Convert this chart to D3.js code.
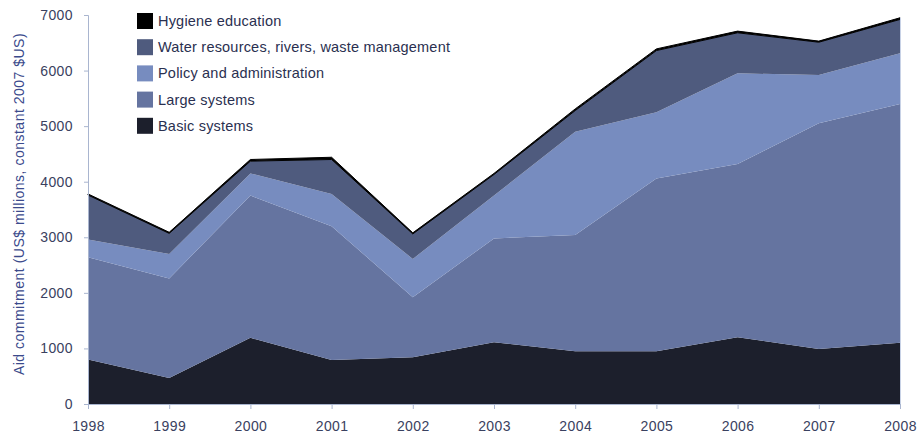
<!DOCTYPE html>
<html><head><meta charset="utf-8">
<script src="https://cdn.jsdelivr.net/npm/d3@7"></script>
<style>body{margin:0;background:#fff}svg{display:block}</style>
</head><body>
<svg id="c" width="918" height="439"></svg>
<script>
const years = [1998,1999,2000,2001,2002,2003,2004,2005,2006,2007,2008];
const basicSystems = [800,470,1190,790,840,1110,950,950,1200,990,1100];
const largeSystems = [1840,1790,2560,2410,1080,1870,2090,3110,3120,4060,4300];
const policyAdmin = [320,440,400,580,690,770,1860,1190,1630,870,910];
const waterResources = [800,370,220,620,450,380,380,1110,730,590,610];
const hygieneEducation = [20,20,30,40,20,20,30,30,30,20,30];
const yTicks = [0,1000,2000,3000,4000,5000,6000,7000];
const seriesNames = ["Basic systems","Large systems","Policy and administration","Water resources, rivers, waste management","Hygiene education"];
const seriesColors = ["#1c1f2c","#6574a0","#778cbf","#4f5b7e","#000000"];

const keys = ["basic","large","policy","water","hygiene"];
const table = years.map((y,i)=>({year:y,basic:basicSystems[i],large:largeSystems[i],policy:policyAdmin[i],water:waterResources[i],hygiene:hygieneEducation[i]}));

const svg = d3.select("#c");
const L=88,R=900,T=15,B=404;
const x = d3.scaleLinear().domain([1998,2008]).range([L,R]);
const y = d3.scaleLinear().domain([0,7000]).range([B,T]);

const stack = d3.stack().keys(keys)(table);
const area = d3.area().x(d=>x(d.data.year)).y0(d=>y(d[0])).y1(d=>y(d[1]));
svg.append("g").selectAll("path").data(stack).join("path")
  .attr("d",area).attr("fill",(d,i)=>seriesColors[i])
  .attr("stroke",(d,i)=>i===4?"#000":"none").attr("stroke-width",1);

const last = stack[stack.length-1][years.length-1][1];
svg.append("line").attr("x1",R+0.5).attr("x2",R+0.5).attr("y1",y(last)).attr("y2",B)
  .attr("stroke","#c8d2e6").attr("stroke-width",1);

const axisCol="#a9b5cf", textCol="#3a4160";
const font="Liberation Sans, Arial, sans-serif";
const ya = svg.append("g").attr("transform",`translate(${L},0)`)
  .call(d3.axisLeft(y).tickValues(yTicks).tickSize(4).tickPadding(11).tickFormat(d3.format("d")));
ya.select(".domain").attr("stroke",axisCol);
ya.selectAll(".tick line").attr("stroke",axisCol);
ya.selectAll("text").attr("fill",textCol).style("font-family",font).style("font-size","14px").style("letter-spacing","0.4px");

const xa = svg.append("g").attr("transform",`translate(0,${B})`)
  .call(d3.axisBottom(x).tickValues(years).tickSize(5).tickPadding(12).tickFormat(d3.format("d")));
xa.select(".domain").attr("stroke",axisCol);
xa.selectAll(".tick line").attr("stroke",axisCol);
xa.selectAll("text").attr("fill",textCol).style("font-family",font).style("font-size","14px").style("letter-spacing","0.4px");

svg.append("text").attr("transform","translate(24,204) rotate(-90)")
  .attr("text-anchor","middle").attr("fill","#3b4a8c")
  .style("font-family",font).style("font-size","14px").style("letter-spacing","0.5px")
  .text("Aid commitment (US$ millions, constant 2007 $US)");

const legOrder = [4,3,2,1,0];
const lg = svg.append("g");
legOrder.forEach((si,j)=>{
  const cy = 21 + j*26.2;
  lg.append("rect").attr("x",137).attr("y",cy-8).attr("width",16).attr("height",16).attr("fill",seriesColors[si]);
  lg.append("text").attr("x",158).attr("y",cy+5).attr("fill","#2a3050")
    .style("font-family",font).style("font-size","14.5px").style("letter-spacing","0.2px")
    .text(seriesNames[si]);
});
</script>
</body></html>
